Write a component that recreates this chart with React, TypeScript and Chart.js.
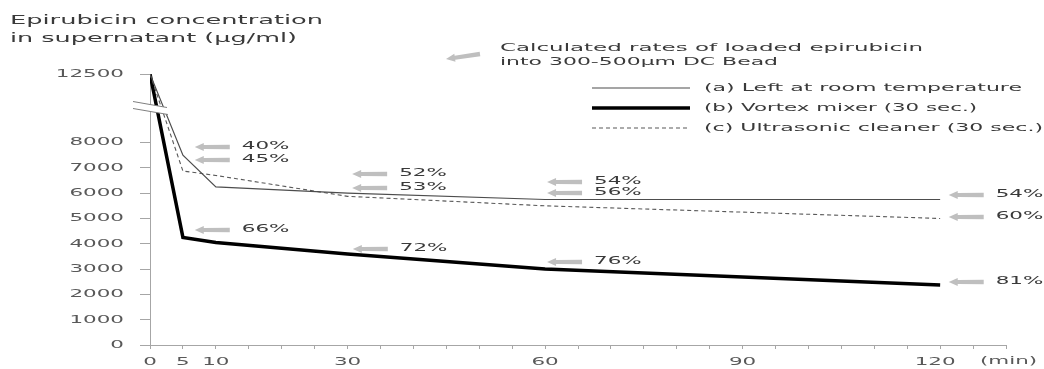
import React, { useEffect, useRef } from 'react';
import { Chart, registerables, LinearScale } from 'chart.js';

// ---------------- data ----------------
const times = [0, 5, 10, 30, 60, 120];
const roomTemp = [12500, 7500, 6250, 6000, 5750, 5750];
const vortex = [12500, 4250, 4050, 3600, 3000, 2375];
const ultrasonic = [12500, 6875, 6700, 5875, 5500, 5000];

const seriesLabels = [
  '(a) Left at room temperature',
  '(b) Vortex mixer (30 sec.)',
  '(c) Ultrasonic cleaner (30 sec.)',
];

const xLabelValues = [0, 5, 10, 30, 60, 90, 120];
const yTickValues = [0, 1000, 2000, 3000, 4000, 5000, 6000, 7000, 8000, 12500];

const titleLines = ['Epirubicin concentration', 'in supernatant (µg/ml)'];
const noteLines = ['Calculated rates of loaded epirubicin', 'into 300-500µm DC Bead'];
const xUnit = '(min)';

// loading-rate call-outs: text, arrow tip (time, concentration)
const rateTexts = ['40%', '45%', '66%', '52%', '53%', '72%', '54%', '56%', '76%', '54%', '60%', '81%'];
const rateTimes = [6.8, 6.8, 6.8, 30.7, 30.7, 30.8, 60.3, 60.3, 60.3, 121.3, 121.3, 121.3];
const rateConc = [7826, 7312, 4545, 6759, 6206, 3794, 6443, 6008, 3281, 5929, 5059, 2490];

// ---------------- broken axis ----------------
const BREAK_FROM = 8000;
const BREAK_RATIO = 0.602;
const BREAK_MARK_VALUE = 10300;
const compress = (v: number) => (v <= BREAK_FROM ? v : BREAK_FROM + (v - BREAK_FROM) * BREAK_RATIO);
const expand = (d: number) => (d <= BREAK_FROM ? d : BREAK_FROM + (d - BREAK_FROM) / BREAK_RATIO);

class BrokenLinearScale extends LinearScale {
  static id = 'brokenLinear';
  static defaults = (LinearScale as any).defaults;
  getPixelForValue(v: number) {
    return super.getPixelForValue(compress(v));
  }
  getValueForPixel(p: number) {
    return expand(super.getValueForPixel(p) as number);
  }
}

Chart.register(...registerables, BrokenLinearScale as any);

const FONT = '"DejaVu Sans", Verdana, sans-serif';
const TEXT = '#3a3a3a';
const AXIS = '#a6a6a6';

function drawText(
  ctx: CanvasRenderingContext2D,
  text: string,
  x: number,
  y: number,
  size: number,
  opt: { sx?: number; width?: number; align?: 'left' | 'right' | 'center'; color?: string; baseline?: CanvasTextBaseline } = {}
) {
  ctx.save();
  ctx.font = `${size}px ${FONT}`;
  ctx.fillStyle = opt.color || TEXT;
  ctx.textBaseline = opt.baseline || 'middle';
  ctx.textAlign = 'left';
  const w = ctx.measureText(text).width;
  const sx = opt.width ? opt.width / w : opt.sx ?? 1.95;
  const total = w * sx;
  let left = x;
  if (opt.align === 'right') left = x - total;
  if (opt.align === 'center') left = x - total / 2;
  ctx.translate(left, y);
  ctx.scale(sx, 1);
  ctx.fillText(text, 0, 0);
  ctx.restore();
}

function drawArrow(ctx: CanvasRenderingContext2D, tipX: number, tipY: number, tailX: number, tailY: number) {
  const ang = Math.atan2(tailY - tipY, tailX - tipX);
  const len = Math.hypot(tailX - tipX, tailY - tipY);
  ctx.save();
  ctx.translate(tipX, tipY);
  ctx.rotate(ang);
  ctx.fillStyle = '#bfbfbf';
  ctx.beginPath();
  ctx.moveTo(0, 0);
  ctx.lineTo(9, -4);
  ctx.lineTo(9, -2);
  ctx.lineTo(len, -2.3);
  ctx.lineTo(len, 2.3);
  ctx.lineTo(9, 2);
  ctx.lineTo(9, 4);
  ctx.closePath();
  ctx.fill();
  ctx.restore();
}

const decorPlugin = {
  id: 'decor',
  afterDraw(chart: any) {
    const ctx: CanvasRenderingContext2D = chart.ctx;
    const xs = chart.scales.x;
    const ys = chart.scales.y;
    const area = chart.chartArea;

    // axis break marks
    const by = ys.getPixelForValue(BREAK_MARK_VALUE);
    const ax = area.left;
    ctx.save();
    ctx.fillStyle = '#ffffff';
    ctx.beginPath();
    ctx.moveTo(ax - 17, by - 6);
    ctx.lineTo(ax + 17, by);
    ctx.lineTo(ax + 18, by + 7);
    ctx.lineTo(ax - 17, by + 1);
    ctx.closePath();
    ctx.fill();
    ctx.strokeStyle = '#7f7f7f';
    ctx.lineWidth = 1;
    ctx.beginPath();
    ctx.moveTo(ax - 17, by - 6);
    ctx.lineTo(ax + 17, by);
    ctx.moveTo(ax - 17, by + 1);
    ctx.lineTo(ax + 18, by + 7);
    ctx.stroke();
    ctx.restore();

    // y tick labels
    yTickValues.forEach((v) => {
      drawText(ctx, String(v), ax - 26, ys.getPixelForValue(v), 11, { align: 'right', color: '#595959' });
    });
    // x tick labels
    xLabelValues.forEach((v) => {
      drawText(ctx, String(v), xs.getPixelForValue(v) - (v >= 100 ? 5 : 0), area.bottom + 17, 11, {
        align: 'center',
        color: '#595959',
      });
    });
    drawText(ctx, xUnit, area.right - 26, area.bottom + 16.5, 11, { color: '#595959' });

    // titles
    drawText(ctx, titleLines[0], 10, 23.5, 11.5, { width: 313, baseline: 'alphabetic' });
    drawText(ctx, titleLines[1], 10, 41.5, 11.5, { width: 287, baseline: 'alphabetic' });
    drawText(ctx, noteLines[0], 500, 50.5, 11, { width: 423, baseline: 'alphabetic' });
    drawText(ctx, noteLines[1], 500, 65, 11, { width: 278, baseline: 'alphabetic' });
    drawArrow(ctx, 446, 59, 480, 54);

    // legend
    const legendY = [88, 108, 128];
    const legendW = [318, 273, 339];
    chart.data.datasets.forEach((ds: any, i: number) => {
      const idx = seriesLabels.indexOf(ds.label);
      const y = legendY[idx];
      ctx.save();
      ctx.strokeStyle = ds.borderColor;
      ctx.lineWidth = ds.borderWidth;
      ctx.setLineDash(ds.borderDash || []);
      ctx.beginPath();
      ctx.moveTo(592, y);
      ctx.lineTo(690, y);
      ctx.stroke();
      ctx.restore();
      drawText(ctx, ds.label, 704, y, 11, { width: legendW[idx] });
    });

    // rate call-outs
    rateTexts.forEach((t, i) => {
      const tx = xs.getPixelForValue(rateTimes[i]);
      const ty = ys.getPixelForValue(rateConc[i]);
      drawArrow(ctx, tx, ty, tx + 35, ty);
      drawText(ctx, t, tx + 47, ty - 1, 11);
    });
  },
};

export default function App() {
  const ref = useRef<HTMLCanvasElement>(null);

  useEffect(() => {
    document.body.style.margin = '0';
    const mk = (vals: number[]) => times.map((t, i) => ({ x: t, y: vals[i] }));
    const chart = new Chart(ref.current as HTMLCanvasElement, {
      type: 'line',
      data: {
        datasets: [
          {
            label: seriesLabels[0],
            data: mk(roomTemp),
            borderColor: '#4d4d4d',
            borderWidth: 1.2,
            pointRadius: 0,
            tension: 0,
            fill: false,
          },
          {
            label: seriesLabels[2],
            data: mk(ultrasonic),
            borderColor: '#595959',
            borderWidth: 1.1,
            borderDash: [4, 3],
            pointRadius: 0,
            tension: 0,
            fill: false,
          },
          {
            label: seriesLabels[1],
            data: mk(vortex),
            borderColor: '#000000',
            borderWidth: 3.5,
            pointRadius: 0,
            tension: 0,
            fill: false,
          },
        ],
      },
      options: {
        responsive: false,
        animation: false,
        layout: { padding: { left: 0, top: 74, right: 38, bottom: 0 } },
        plugins: { legend: { display: false }, tooltip: { enabled: false } },
        scales: {
          x: {
            type: 'linear',
            min: 0,
            max: 130,
            bounds: 'data',
            afterBuildTicks: (s: any) => {
              const arr = [];
              for (let v = 0; v <= 130; v += 5) arr.push({ value: v });
              s.ticks = arr;
            },
            afterFit: (s: any) => {
              s.height = 24;
            },
            ticks: { display: false },
            grid: { drawOnChartArea: false, drawTicks: true, tickLength: 4, color: AXIS },
            border: { color: AXIS, width: 1 },
          },
          y: {
            type: 'brokenLinear' as any,
            min: 0,
            max: compress(12500),
            bounds: 'data',
            afterBuildTicks: (s: any) => {
              s.ticks = yTickValues.map((v) => ({ value: v }));
            },
            afterFit: (s: any) => {
              s.width = 150;
            },
            ticks: { display: false },
            grid: { drawOnChartArea: false, drawTicks: true, tickLength: 10, color: AXIS },
            border: { color: AXIS, width: 1 },
          } as any,
        },
      },
      plugins: [decorPlugin],
    });
    return () => chart.destroy();
  }, []);

  return (
    <div style={{ width: 1044, height: 369, background: '#fff' }}>
      <canvas ref={ref} width={1044} height={369} style={{ display: 'block' }} />
    </div>
  );
}
